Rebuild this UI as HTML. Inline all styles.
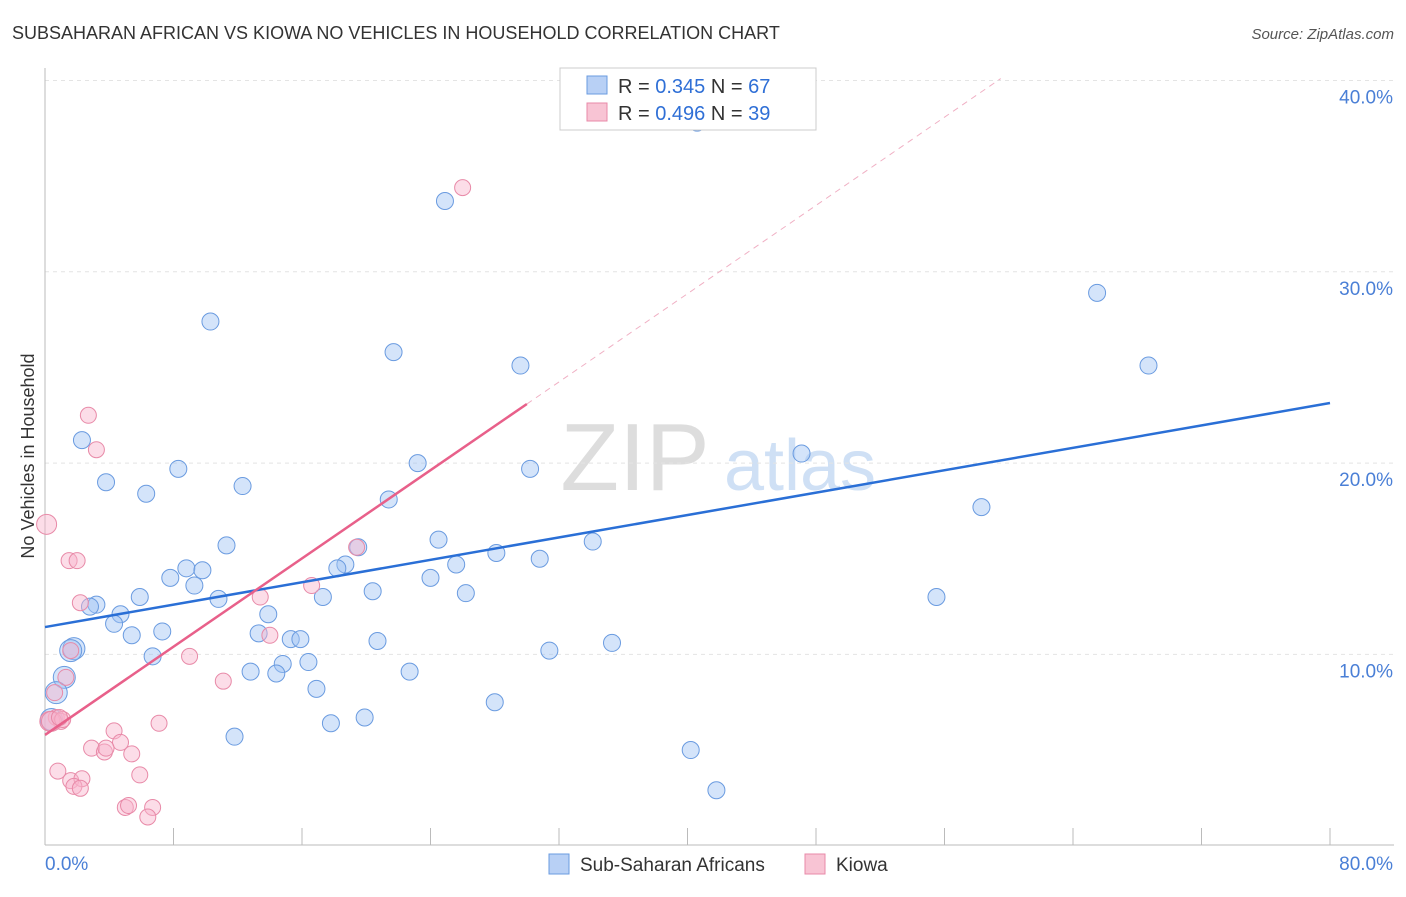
<!DOCTYPE html>
<html><head><meta charset="utf-8"><style>
body{margin:0;background:#fff;font-family:"Liberation Sans",sans-serif;}
svg text{font-family:"Liberation Sans",sans-serif;}
</style></head><body>
<svg id="c" width="1406" height="892" xmlns="http://www.w3.org/2000/svg">
<text x="12" y="39" font-size="18" fill="#333">SUBSAHARAN AFRICAN VS KIOWA NO VEHICLES IN HOUSEHOLD CORRELATION CHART</text>
<text x="1394" y="39" font-size="15" fill="#555" font-style="italic" text-anchor="end">Source: ZipAtlas.com</text>
<text x="34" y="456" font-size="18" fill="#333" transform="rotate(-90 34 456)" text-anchor="middle">No Vehicles in Household</text>
<text x="635" y="490" font-size="96" fill="#ddd" font-family="Liberation Serif" text-anchor="middle">ZIP</text>
<text x="800" y="490" font-size="72" fill="#cfe0f5" text-anchor="middle">atlas</text>
<g id="grid"></g><g id="pts"></g><g id="lines"></g>
<g>
<rect x="560" y="68" width="256" height="62" fill="#fff" stroke="#ccc"/>
<rect x="587" y="76" width="20" height="18" fill="#b8d0f5" stroke="#6a9be0"/>
<rect x="587" y="103" width="20" height="18" fill="#f8c4d4" stroke="#e88aa8"/>
<text x="618" y="93" font-size="20" fill="#333">R = <tspan fill="#2f6fd6">0.345</tspan>   N = <tspan fill="#2f6fd6">67</tspan></text>
<text x="618" y="120" font-size="20" fill="#333">R = <tspan fill="#2f6fd6">0.496</tspan>   N = <tspan fill="#2f6fd6">39</tspan></text>
</g>
<g>
<rect x="549" y="854" width="20" height="20" fill="#b8d0f5" stroke="#6a9be0"/>
<text x="580" y="871" font-size="19" fill="#333">Sub-Saharan Africans</text>
<rect x="805" y="854" width="20" height="20" fill="#f8c4d4" stroke="#e88aa8"/>
<text x="836" y="871" font-size="19" fill="#333">Kiowa</text>
</g>
</svg>
<script>
const yTicks=[10,20,30,40];
const xTickLabels=["0.0%","80.0%"];
const blueX=[40.6,24.9,10.3,21.7,29.6,65.5,68.7,2.3,8.3,23.2,30.2,47.1,12.3,21.4,58.3,6.3,3.8,11.3,19.5,24.5,34.1,28.1,30.8,25.6,18.7,18.2,8.8,9.8,7.8,24.0,9.3,20.4,26.2,17.3,5.9,10.8,55.5,3.2,2.8,4.7,13.9,4.3,5.4,7.3,13.3,15.3,15.9,20.7,35.3,1.8,1.6,6.7,31.4,16.4,14.8,12.8,14.4,22.7,1.2,16.9,0.7,28.0,19.9,17.8,11.8,0.4,40.2,41.8];
const blueY=[37.8,33.7,27.4,25.8,25.1,28.9,25.1,21.2,19.7,20.0,19.7,20.5,18.8,18.1,17.7,18.4,19.0,15.7,15.6,16.0,15.9,15.3,15.0,14.7,14.7,14.5,14.5,14.4,14.0,14.0,13.6,13.3,13.2,13.0,13.0,12.9,13.0,12.6,12.5,12.1,12.1,11.6,11.0,11.2,11.1,10.8,10.8,10.7,10.6,10.3,10.2,9.9,10.2,9.6,9.5,9.1,9.0,9.1,8.8,8.2,8.0,7.5,6.7,6.4,5.7,6.6,5.0,2.9];
const pinkX=[26.0,2.7,3.2,0.1,1.5,2.0,19.4,2.2,16.6,13.4,14.0,9.0,1.6,11.1,1.3,0.6,0.7,1.0,0.3,7.1,4.3,4.7,2.9,3.7,3.8,5.4,0.8,5.9,1.6,2.3,1.8,2.2,5.0,5.2,6.7,6.4,0.4,1.1,0.9];
const pinkY=[34.4,22.5,20.7,16.8,14.9,14.9,15.6,12.7,13.6,13.0,11.0,9.9,10.2,8.6,8.8,8.0,6.7,6.5,6.5,6.4,6.0,5.4,5.1,4.9,5.1,4.8,3.9,3.7,3.4,3.5,3.1,3.0,2.0,2.1,2.0,1.5,6.5,6.6,6.7];
const blueLine=[[0,11.43],[80,23.14]];
const pinkLine=[[0,5.79],[30,23.09]];
const pinkDash=[[30,23.09],[59.5,40.1]];
const NS="http://www.w3.org/2000/svg";
const X=v=>45+v*16.0625, Y=v=>845.7-v*19.13;
function mk(t,a,p){const e=document.createElementNS(NS,t);for(const k in a)e.setAttribute(k,a[k]);p.appendChild(e);return e;}
const g=document.getElementById('grid');
yTicks.forEach(t=>{const l=mk('line',{x1:45,x2:1394,y1:Y(t),y2:Y(t),stroke:'#e4e4e4','stroke-dasharray':'4,4'},g);


const tx=mk('text',{x:1393,y:Y(t)+23,'font-size':19,fill:'#4a7fd6','text-anchor':'end'},g);tx.textContent=t.toFixed(1)+'%';

});
const ax=mk('line',{x1:45,x2:45,y1:68,y2:845,stroke:'#bbb'},g);


const bx=mk('line',{x1:45,x2:1394,y1:845,y2:845,stroke:'#bbb'},g);


for(let i=0;i<=10;i++){const t=mk('line',{x1:X(i*8),x2:X(i*8),y1:828,y2:845,stroke:'#bbb'},g);

}
const l0=mk('text',{x:45,y:870,'font-size':19,fill:'#4a7fd6'},g);l0.textContent=xTickLabels[0];


const l1=mk('text',{x:1393,y:870,'font-size':19,fill:'#4a7fd6','text-anchor':'end'},g);l1.textContent=xTickLabels[1];


const p=document.getElementById('pts');
blueX.forEach((x,i)=>{const c=mk('circle',{cx:X(x),cy:Y(blueY[i]),r:(x<2?11:8.5),fill:'rgba(160,195,245,0.45)',stroke:'#6a9be0','stroke-width':1},p);

});
pinkX.forEach((x,i)=>{const c=mk('circle',{cx:X(x),cy:Y(pinkY[i]),r:(x<0.5?10:8),fill:'rgba(248,180,205,0.45)',stroke:'#e88aa8','stroke-width':1},p);

});
const L=document.getElementById('lines');
const b=mk('line',{x1:X(blueLine[0][0]),y1:Y(blueLine[0][1]),x2:X(blueLine[1][0]),y2:Y(blueLine[1][1]),stroke:'#2a6fd6','stroke-width':2.5},L);


const pk=mk('line',{x1:X(pinkLine[0][0]),y1:Y(pinkLine[0][1]),x2:X(pinkLine[1][0]),y2:Y(pinkLine[1][1]),stroke:'#e8608a','stroke-width':2.5},L);


const pd=mk('line',{x1:X(pinkDash[0][0]),y1:Y(pinkDash[0][1]),x2:X(pinkDash[1][0]),y2:Y(pinkDash[1][1]),stroke:'#f0b0c4','stroke-width':1,'stroke-dasharray':'6,5'},L);


</script>
</body></html>
